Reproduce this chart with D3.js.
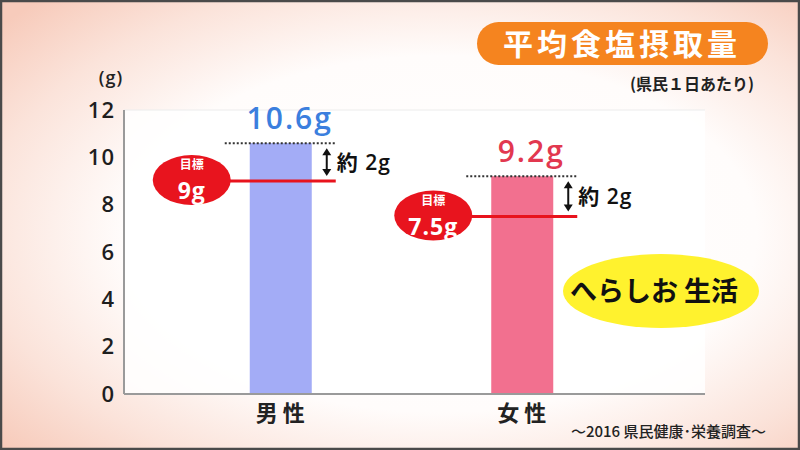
<!DOCTYPE html>
<html><head><meta charset="utf-8">
<script src="https://cdn.jsdelivr.net/npm/d3@7"></script>
<style>html,body{margin:0;padding:0;background:#fff;}svg{display:block;}</style>
</head><body>
<svg id="c" width="800" height="450"></svg>
<script>
// ---- data ----
const categories = ["男性", "女性"];
const intake = [10.6, 9.2];
const intakeLabels = ["10.6g", "9.2g"];
const targets = [9, 7.5];
const targetLabels = ["9g", "7.5g"];
const diffLabels = ["約 2g", "約 2g"];
const yTicks = [0, 2, 4, 6, 8, 10, 12];
const barColors = ["#a3acf6", "#f2708f"];
const labelColors = ["#3b7fde", "#e2384f"];

const FONT = "'Noto Sans CJK JP','Noto Sans',sans-serif";
const NUM = "'Open Sans','Noto Sans CJK JP',sans-serif";
const svg = d3.select("#c");

// background
const defs = svg.append("defs");
const rg = defs.append("radialGradient").attr("id", "bg").attr("cx", "55%").attr("cy", "52%").attr("r", "72%");
rg.append("stop").attr("offset", "0%").attr("stop-color", "#ffffff");
rg.append("stop").attr("offset", "55%").attr("stop-color", "#fffcfb");
rg.append("stop").attr("offset", "80%").attr("stop-color", "#fbe3da");
rg.append("stop").attr("offset", "100%").attr("stop-color", "#f7cbbb");
svg.append("rect").attr("width", 800).attr("height", 450).attr("fill", "url(#bg)");

// scales
const y = d3.scaleLinear().domain([0, 12]).range([394, 110]);
const x = d3.scalePoint().domain(categories).range([160, 643]).padding(0.5);
const barW = 62;

// plot area background
svg.append("rect").attr("x", 124).attr("y", y(12)).attr("width", 581).attr("height", y(0) - y(12))
  .attr("fill", "#ffffff").attr("opacity", 0.85);
svg.append("line").attr("x1", 124).attr("x2", 705).attr("y1", y(12)).attr("y2", y(12))
  .attr("stroke", "#ececec").attr("stroke-width", 1);

// y axis
const yAxis = svg.append("g").attr("transform", "translate(124,0)")
  .call(d3.axisLeft(y).tickValues(yTicks).tickSize(0).tickPadding(9));
yAxis.select(".domain").remove();
yAxis.selectAll("text").attr("font-family", NUM).attr("font-weight", 600).attr("font-size", 22)
  .attr("fill", "#1e1e1e").attr("letter-spacing", 1);
svg.append("line").attr("x1", 124).attr("x2", 124).attr("y1", y(12)).attr("y2", y(0))
  .attr("stroke", "#9a9a9a").attr("stroke-width", 2);

svg.append("text").attr("x", 111).attr("y", 84).attr("text-anchor", "middle")
  .attr("font-family", NUM).attr("font-weight", 600).attr("font-size", 18).attr("letter-spacing", 1)
  .attr("fill", "#222").text("(g)");

// bars
svg.selectAll("rect.bar").data(categories).join("rect").attr("class", "bar")
  .attr("x", d => x(d) - barW / 2).attr("width", barW)
  .attr("y", (d, i) => y(intake[i])).attr("height", (d, i) => y(0) - y(intake[i]))
  .attr("fill", (d, i) => barColors[i]);

// x axis line
svg.append("line").attr("x1", 124).attr("x2", 705).attr("y1", y(0)).attr("y2", y(0))
  .attr("stroke", "#9a9a9a").attr("stroke-width", 2);

// category labels
svg.selectAll("text.cat").data(categories).join("text").attr("class", "cat")
  .attr("x", d => x(d) + 2).attr("y", 421).attr("text-anchor", "middle")
  .attr("font-family", FONT).attr("font-weight", 700).attr("font-size", 22)
  .attr("letter-spacing", 5).attr("fill", "#222").text(d => d);

// dotted lines at bar tops
svg.selectAll("line.dot").data(categories).join("line").attr("class", "dot")
  .attr("x1", d => x(d) - 56).attr("x2", d => x(d) + 54)
  .attr("y1", (d, i) => y(intake[i])).attr("y2", (d, i) => y(intake[i]))
  .attr("stroke", "#333").attr("stroke-width", 2).attr("stroke-dasharray", "2,2");

// value labels
svg.selectAll("text.val").data(categories).join("text").attr("class", "val")
  .attr("x", d => x(d) + 9).attr("y", (d, i) => y(intake[i]) - 14).attr("text-anchor", "middle")
  .attr("font-family", NUM).attr("font-weight", 600).attr("font-size", 30).attr("letter-spacing", 2)
  .attr("fill", (d, i) => labelColors[i]).text((d, i) => intakeLabels[i]);

// target lines
svg.selectAll("line.tgt").data(categories).join("line").attr("class", "tgt")
  .attr("x1", d => x(d) - 85).attr("x2", d => x(d) + 55)
  .attr("y1", (d, i) => y(targets[i])).attr("y2", (d, i) => y(targets[i]))
  .attr("stroke", "#e8131d").attr("stroke-width", 3);

// target badges
const badge = svg.selectAll("g.badge").data(categories).join("g").attr("class", "badge")
  .attr("transform", (d, i) => `translate(${x(d) - 89},${y(targets[i]) - 1})`);
badge.append("ellipse").attr("rx", 39).attr("ry", 25).attr("fill", "#e8141e");
badge.append("text").attr("y", -11).attr("text-anchor", "middle").attr("font-family", FONT)
  .attr("font-weight", 700).attr("font-size", 12).attr("fill", "#fff").text("目標");
badge.append("text").attr("y", 19).attr("text-anchor", "middle").attr("font-family", NUM)
  .attr("font-weight", 700).attr("font-size", 23).attr("fill", "#fff").attr("letter-spacing", 1)
  .text((d, i) => targetLabels[i]);

// double arrows
const arrowX = d => x(d) + 46;
categories.forEach((d, i) => {
  const top = y(intake[i]) + 5, bot = y(targets[i]) - 5, ax = arrowX(d);
  svg.append("line").attr("x1", ax).attr("x2", ax).attr("y1", top + 5).attr("y2", bot - 5)
    .attr("stroke", "#111").attr("stroke-width", 2);
  svg.append("path").attr("d", `M${ax - 4.5},${top + 7}L${ax},${top}L${ax + 4.5},${top + 7}Z`).attr("fill", "#111");
  svg.append("path").attr("d", `M${ax - 4.5},${bot - 7}L${ax},${bot}L${ax + 4.5},${bot - 7}Z`).attr("fill", "#111");
  svg.append("text").attr("x", ax + 10).attr("y", (top + bot) / 2 + 8)
    .attr("font-family", NUM).attr("font-weight", 600).attr("font-size", 21).attr("letter-spacing", 1)
    .attr("fill", "#111").text(diffLabels[i]);
});

// title pill
svg.append("rect").attr("x", 477).attr("y", 22).attr("width", 291).attr("height", 43).attr("rx", 21.5)
  .attr("fill", "#f5841f");
svg.append("text").attr("x", 622).attr("y", 55).attr("text-anchor", "middle").attr("font-family", FONT)
  .attr("font-weight", 700).attr("font-size", 30).attr("letter-spacing", 4).attr("fill", "#fff").text("平均食塩摂取量");
svg.append("text").attr("x", 754).attr("y", 90).attr("text-anchor", "end").attr("font-family", FONT)
  .attr("font-weight", 700).attr("font-size", 16).attr("fill", "#222").text("(県民１日あたり)");

// yellow callout
svg.append("ellipse").attr("cx", 661).attr("cy", 291).attr("rx", 98).attr("ry", 37).attr("fill", "#fff22e");
svg.append("text").attr("x", 654).attr("y", 301).attr("text-anchor", "middle").attr("font-family", FONT)
  .attr("font-weight", 700).attr("font-size", 27).attr("fill", "#111").text("へらしお 生活");

// footnote
svg.append("text").attr("x", 766).attr("y", 437).attr("text-anchor", "end").attr("font-family", FONT)
  .attr("font-weight", 500).attr("font-size", 15).attr("fill", "#222").text("～2016 県民健康･栄養調査～");

// frame
svg.append("rect").attr("x", 1).attr("y", 1).attr("width", 798).attr("height", 448)
  .attr("fill", "none").attr("stroke", "#4a4a4a").attr("stroke-width", 2.5);
</script>
</body></html>
